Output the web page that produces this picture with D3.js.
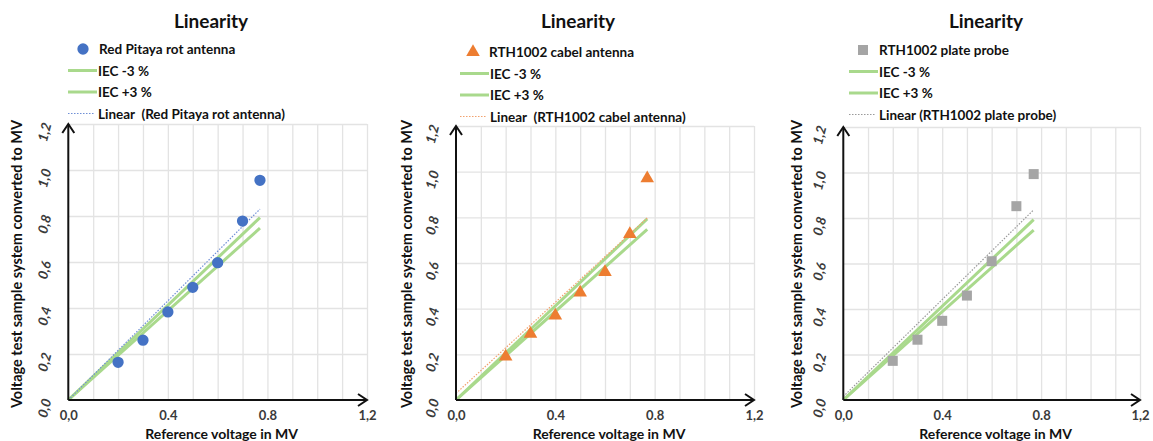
<!DOCTYPE html>
<html>
<head>
<meta charset="utf-8">
<script src="https://cdn.jsdelivr.net/npm/d3@7"></script>
<style>
  html, body { margin: 0; padding: 0; background: #fff; }
  svg { display: block; font-family: Lato, "Open Sans", sans-serif; font-weight: bold; }
  .keep-space { white-space: pre; }
</style>
</head>
<body>
<svg id="chart" width="1153" height="441"></svg>
<script>
// Reference voltage (MV) at each measurement step
const refVoltage = [0.2, 0.3, 0.4, 0.5, 0.6, 0.7, 0.77];

// Measured voltage of each test system, converted to MV
const redPitaya  = [0.164, 0.26, 0.383, 0.49, 0.597, 0.778, 0.955];
const cabelAnt   = [0.19, 0.29, 0.37, 0.47, 0.56, 0.727, 0.971];
const plateProbe = [0.172, 0.265, 0.348, 0.459, 0.61, 0.852, 0.993];

// IEC ±3 % tolerance lines (endpoints)
const iecX     = [0, 0.77];
const iecMinus = [0, 0.747];
const iecPlus  = [0, 0.793];

// Linear trend lines (endpoints at x = 0 and x = 0.77)
const trendRedPitaya  = [0, 0.83];
const trendCabelAnt   = [0.029, 0.797];
const trendPlateProbe = [0.015, 0.836];

// Axis tick labels
const xTickValues = [0, 0.4, 0.8, 1.2];
const xTickLabels = ["0,0", "0.4", "0.8", "1,2"];
const yTickValues = [0, 0.2, 0.4, 0.6, 0.8, 1.0, 1.2];
const yTickLabels = ["0,0", "0,2", "0,4", "0,6", "0,8", "1,0", "1,2"];

const seriesNames = ["Red Pitaya rot antenna", "RTH1002 cabel antenna", "RTH1002 plate probe"];

const panels = [
  { name: seriesNames[0], values: redPitaya, trend: trendRedPitaya, marker: "circle",
    color: "#4472C4", trendColor: "#6f8fd6", trendLabel: "Linear  (Red Pitaya rot antenna)",
    x0: 68.3, x1: 367, yTop: 124, titleX: 211, yLabelX: 16, legX: 68, legMarkX: 83, legY: 49 },
  { name: seriesNames[1], values: cabelAnt, trend: trendCabelAnt, marker: "triangle",
    color: "#ED7D31", trendColor: "#f2a26f", trendLabel: "Linear  (RTH1002 cabel antenna)",
    x0: 456, x1: 754, yTop: 126, titleX: 578, yLabelX: 406, legX: 460, legMarkX: 473, legY: 52 },
  { name: seriesNames[2], values: plateProbe, trend: trendPlateProbe, marker: "square",
    color: "#A5A5A5", trendColor: "#9a9a9a", trendLabel: "Linear (RTH1002 plate probe)",
    x0: 843.3, x1: 1140, yTop: 127, titleX: 986, yLabelX: 796, legX: 849, legMarkX: 863, legY: 50 }
];

const svg = d3.select("#chart");
const yBase = 400;
const green = "#a9d98c";
const gridColor = "#e3e3e3";

function markerPath(type) {
  if (type === "circle") return d3.symbol(d3.symbolCircle, 100)();
  if (type === "triangle") return d3.symbol(d3.symbolTriangle, 80)();
  return d3.symbol(d3.symbolSquare, 100)();
}

panels.forEach(p => {
  const g = svg.append("g");
  const x = d3.scaleLinear().domain([0, 1.2]).range([p.x0, p.x1]);
  const y = d3.scaleLinear().domain([0, 1.2]).range([yBase, p.yTop]);

  // Gridlines: every 0.1 horizontally, every 0.2 vertically
  g.append("g")
    .attr("transform", `translate(0,${yBase})`)
    .call(d3.axisBottom(x).tickValues(d3.range(1, 13).map(i => i / 10)).tickSize(-(yBase - p.yTop)).tickFormat(""))
    .call(a => a.select(".domain").remove())
    .call(a => a.selectAll("line").attr("stroke", gridColor).attr("stroke-width", 1.3));
  g.append("g")
    .attr("transform", `translate(${p.x0},0)`)
    .call(d3.axisLeft(y).tickValues(yTickValues.slice(1)).tickSize(-(p.x1 - p.x0)).tickFormat(""))
    .call(a => a.select(".domain").remove())
    .call(a => a.selectAll("line").attr("stroke", gridColor).attr("stroke-width", 1.3));

  // Tick labels
  g.append("g")
    .attr("transform", `translate(0,${yBase + 8})`)
    .call(d3.axisBottom(x).tickValues(xTickValues).tickSize(0).tickFormat((d, i) => xTickLabels[i]))
    .call(a => a.select(".domain").remove())
    .call(a => a.selectAll("text").attr("font-size", 13).attr("font-weight", "bold")
      .attr("fill", "#3a3a3a").attr("font-family", "Lato, sans-serif"));
  g.append("g")
    .selectAll("text")
    .data(yTickValues)
    .join("text")
    .attr("transform", d => `translate(${p.x0 - 24},${y(d) + 8}) rotate(-75)`)
    .attr("text-anchor", "middle")
    .attr("dominant-baseline", "central")
    .attr("font-size", 13.5)
    .attr("font-style", "italic")
    .attr("fill", "#3a3a3a")
    .text((d, i) => yTickLabels[i]);

  // IEC tolerance lines
  [iecMinus, iecPlus].forEach(ys => {
    g.append("path")
      .datum(iecX.map((xv, i) => [xv, ys[i]]))
      .attr("d", d3.line().x(d => x(d[0])).y(d => y(d[1])))
      .attr("stroke", green).attr("stroke-width", 3).attr("fill", "none");
  });

  // Linear trend line
  g.append("path")
    .datum(iecX.map((xv, i) => [xv, p.trend[i]]))
    .attr("d", d3.line().x(d => x(d[0])).y(d => y(d[1])))
    .attr("stroke", p.trendColor).attr("stroke-width", 1.2)
    .attr("stroke-dasharray", "1.5,1.5").attr("fill", "none");

  // Axes with arrow heads
  g.append("line").attr("x1", p.x0).attr("y1", yBase).attr("x2", p.x1).attr("y2", yBase)
    .attr("stroke", "#111").attr("stroke-width", 2);
  g.append("line").attr("x1", p.x0).attr("y1", yBase).attr("x2", p.x0).attr("y2", p.yTop)
    .attr("stroke", "#111").attr("stroke-width", 2);
  g.append("path")
    .attr("d", `M${p.x1 - 9},${yBase - 6}L${p.x1},${yBase}L${p.x1 - 9},${yBase + 6}`)
    .attr("stroke", "#111").attr("stroke-width", 2).attr("fill", "none");
  g.append("path")
    .attr("d", `M${p.x0 - 6},${p.yTop + 9}L${p.x0},${p.yTop}L${p.x0 + 6},${p.yTop + 9}`)
    .attr("stroke", "#111").attr("stroke-width", 2).attr("fill", "none");

  // Measurement points
  g.append("g")
    .selectAll("path")
    .data(refVoltage.map((xv, i) => [xv, p.values[i]]))
    .join("path")
    .attr("transform", d => `translate(${x(d[0])},${y(d[1])})`)
    .attr("d", markerPath(p.marker))
    .attr("fill", p.color);

  // Title
  g.append("text").attr("x", p.titleX).attr("y", 28).attr("text-anchor", "middle")
    .attr("font-size", 19).attr("fill", "#111").text("Linearity");

  // Axis titles
  g.append("text")
    .attr("transform", `translate(${p.yLabelX},264) rotate(-90)`)
    .attr("text-anchor", "middle").attr("dominant-baseline", "central")
    .attr("font-size", 14.5).attr("fill", "#111")
    .text("Voltage test sample system converted to MV");
  g.append("text")
    .attr("x", (p.x0 + p.x1) / 2 + 4).attr("y", 438.5)
    .attr("text-anchor", "middle")
    .attr("font-size", 14).attr("fill", "#111")
    .text("Reference voltage in MV");

  // Legend
  const leg = g.append("g").attr("font-size", 13.5).attr("fill", "#111");
  const rows = [p.name, "IEC -3 %", "IEC +3 %", p.trendLabel];
  rows.forEach((label, i) => {
    const ry = p.legY + i * 21.5;
    if (i === 0) {
      leg.append("path").attr("transform", `translate(${p.legMarkX},${ry})`)
        .attr("d", markerPath(p.marker)).attr("fill", p.color);
    } else if (i < 3) {
      leg.append("line").attr("x1", p.legX).attr("x2", p.legX + 29).attr("y1", ry).attr("y2", ry)
        .attr("stroke", green).attr("stroke-width", 3);
    } else {
      leg.append("line").attr("x1", p.legX).attr("x2", p.legX + 27).attr("y1", ry).attr("y2", ry)
        .attr("stroke", p.trendColor).attr("stroke-width", 1.2).attr("stroke-dasharray", "1.5,1.5");
    }
    leg.append("text").attr("class", "keep-space")
      .attr("x", i === 0 ? p.legMarkX + 16 : p.legX + 30).attr("y", ry)
      .attr("dominant-baseline", "central").text(label);
  });
});
</script>
</body>
</html>
